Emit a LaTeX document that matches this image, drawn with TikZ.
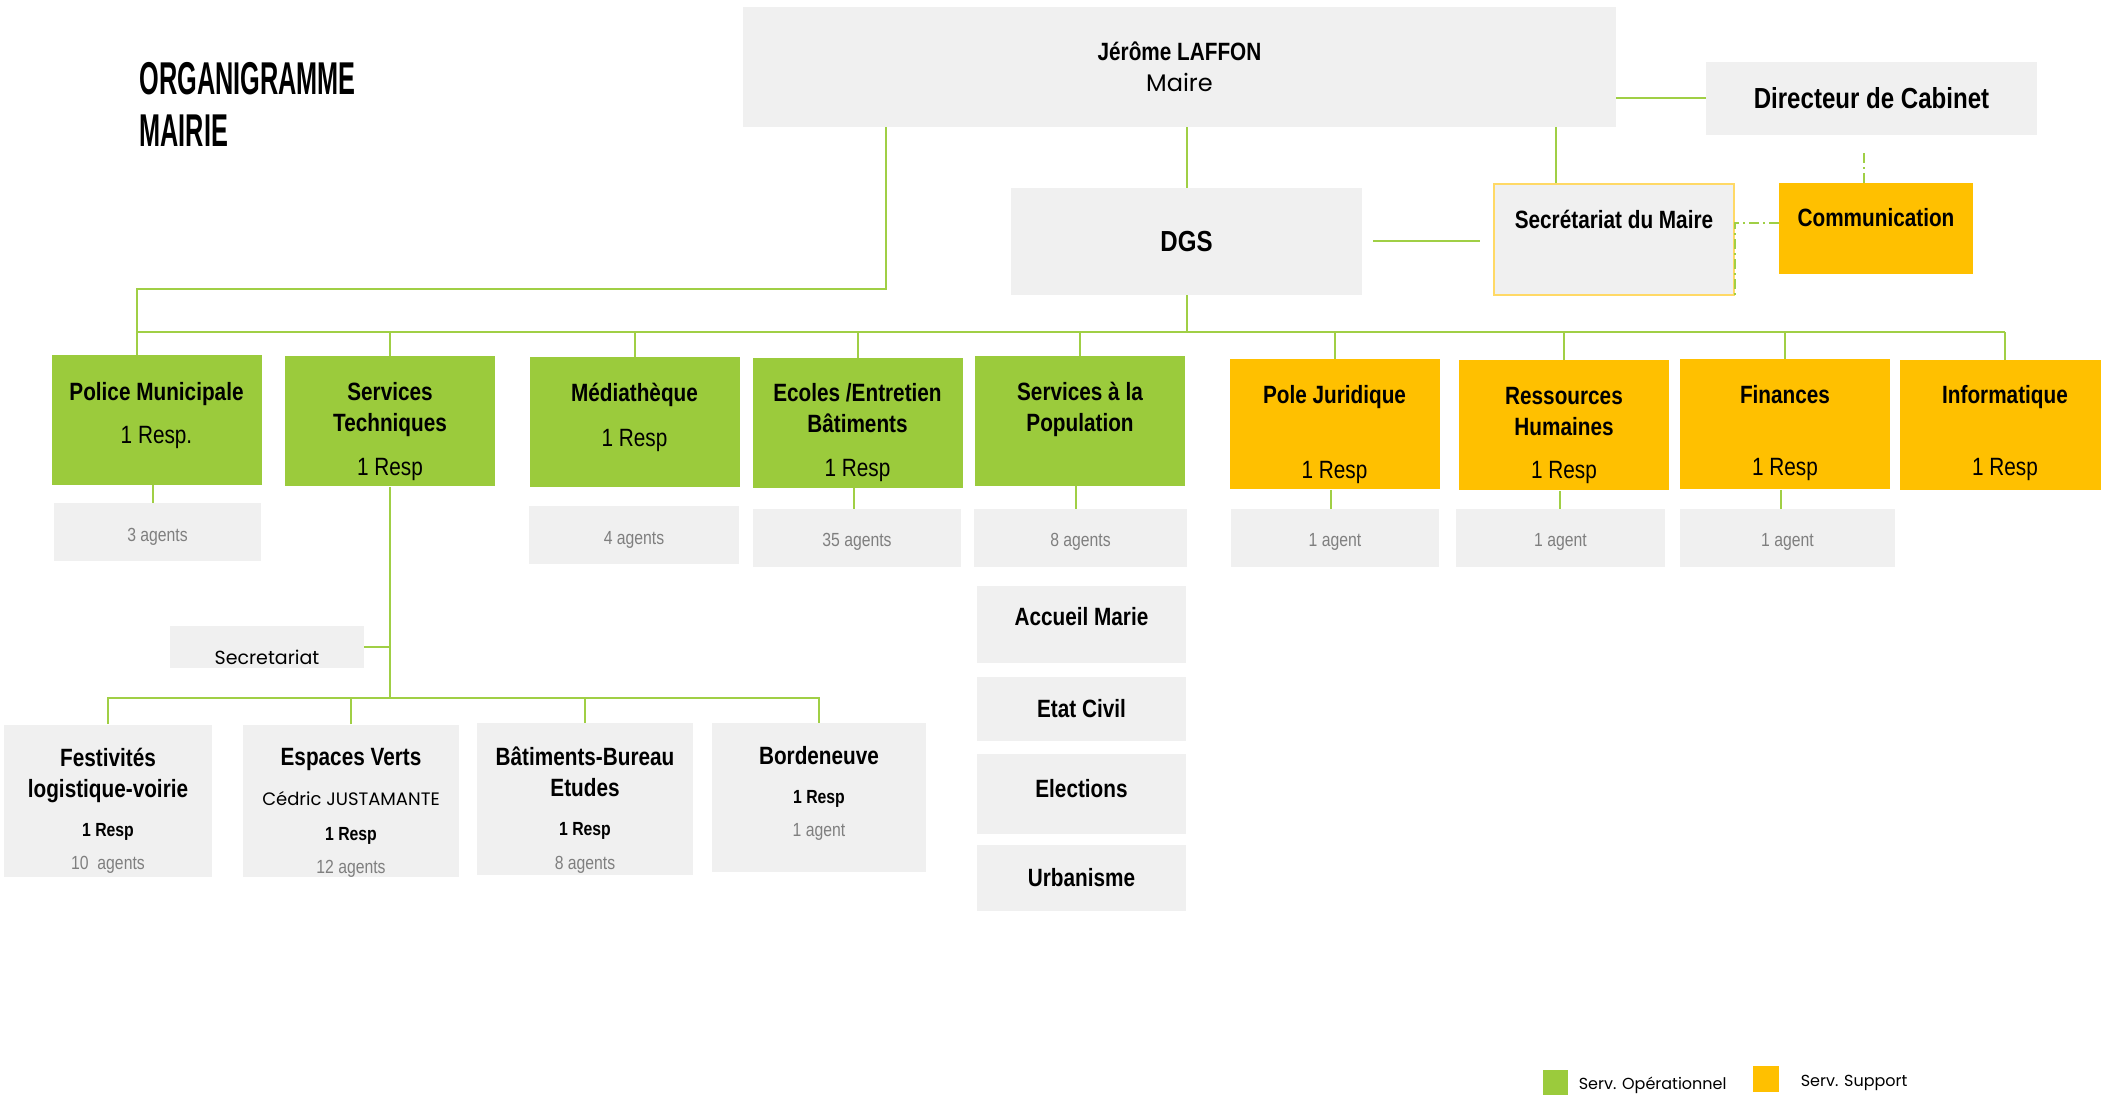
\documentclass[tikz,border=0pt]{standalone}
\usepackage{fontspec}
\setmainfont{Liberation Sans}
\newfontfamily\condfont[FakeStretch=0.83]{Liberation Sans}
\newfontfamily\titlefont[FakeStretch=0.55]{Liberation Sans}
\newfontfamily\roundfont{Poppins}
\usepackage{xcolor}
\usepackage{tikz}
\usetikzlibrary{positioning}

\definecolor{opgreen}{HTML}{9BCB3C}
\definecolor{suporange}{HTML}{FFC000}
\definecolor{boxgray}{HTML}{F0F0F0}
\definecolor{linegreen}{HTML}{A0CF45}
\definecolor{agentgray}{HTML}{7F7F7F}
\definecolor{secborder}{HTML}{FFD966}

\newcommand{\resp}{{\fontsize{9.5}{11}\selectfont 1 Resp}}
\newcommand{\agtxt}[1]{{\mdseries\fontsize{9.5}{11}\selectfont\color{agentgray}#1}}
\newcommand{\padtop}[1]{\rule{0pt}{#1}}
\newcommand{\padbot}[1]{\rule[-#1]{0pt}{#1}}

\begin{document}
\begin{tikzpicture}[x=0.5pt,y=-0.5pt,
  box/.style={inner sep=0pt,align=center,font=\condfont\bfseries\fontsize{12.5}{15.5}\selectfont},
  greybox/.style={box,fill=boxgray},
  opbox/.style={box,fill=opgreen,minimum width=105pt,minimum height=65pt},
  supbox/.style={box,fill=suporange,minimum width=105pt,minimum height=65pt},
  agentbox/.style={greybox,minimum height=29pt,text=agentgray,text height=11pt,text depth=2pt,
                   font=\condfont\fontsize{9.5}{11}\selectfont},
  popbox/.style={greybox,minimum width=104.5pt},
  subbox/.style={greybox,minimum height=76pt},
  link/.style={linegreen,line width=1pt},
  dlink/.style={link,dash pattern=on 5pt off 2pt on 1pt off 2pt}]
\useasboundingbox (0,0) rectangle (2101,1096);

% title
\node[anchor=north west,inner sep=0pt,align=left,
      font=\titlefont\bfseries\fontsize{23}{26}\selectfont] (title) at (139,62) {ORGANIGRAMME\\MAIRIE};

% top level
\node[greybox,minimum width=436.5pt,minimum height=60pt] (maire) at (1179.5,67)
  {Jérôme LAFFON\\{\roundfont\mdseries\fontsize{12}{14}\selectfont Maire}};
\node[greybox,minimum width=165.5pt,minimum height=36.5pt,
      font=\condfont\bfseries\fontsize{14.5}{17}\selectfont] (dircab) at (1871.5,98.5) {Directeur de Cabinet};
\node[greybox,minimum width=175.5pt,minimum height=53.5pt,
      font=\condfont\bfseries\fontsize{14.5}{17}\selectfont] (dgs) at (1186.5,241.5) {DGS};
\node[greybox,draw=secborder,line width=0.8pt,minimum width=120pt,minimum height=55.5pt,
      text height=9pt,text depth=19.5pt] (secmaire) at (1614,239.5) {Secrétariat du Maire};
\node[box,fill=suporange,minimum width=97pt,minimum height=45.5pt,
      text height=9pt,text depth=10.5pt] (comm) at (1876,228.5) {Communication};

% services
\node[opbox] (police) at (156.5,420) {Police Municipale\\[6pt]{\mdseries 1 Resp.}\padbot{7.3pt}};
\node[opbox] (servtech) at (390,421.5) {\padtop{18.6pt}Services\\Techniques\\[6.5pt]{\mdseries 1 Resp}};
\node[opbox] (media) at (634.5,422.5) {Médiathèque\\[7pt]{\mdseries 1 Resp}\padbot{7.3pt}};
\node[opbox] (ecoles) at (857.5,423) {\padtop{18.6pt}Ecoles /Entretien\\Bâtiments\\[6.5pt]{\mdseries 1 Resp}};
\node[opbox] (svcpop) at (1080,421) {Services à la\\Population\padbot{14.6pt}};
\node[supbox] (juri) at (1334.5,424.5) {\padtop{18.6pt}Pole Juridique\\[22pt]{\mdseries 1 Resp}};
\node[supbox] (rh) at (1564,425.5) {\padtop{18.6pt}Ressources\\Humaines\\[6pt]{\mdseries 1 Resp}};
\node[supbox] (fin) at (1785,424.5) {\padtop{17.2pt}Finances\\[20.5pt]{\mdseries 1 Resp}};
\node[supbox] (info) at (2005,425) {\padtop{17.2pt}Informatique\\[20.5pt]{\mdseries 1 Resp}};

% agents
\node[agentbox,minimum width=103.5pt] (agpol) at (157.5,532.5) {3 agents};
\node[agentbox,minimum width=105pt] (agmed) at (634,535.5) {4 agents};
\node[agentbox,minimum width=104pt] (agecol) at (857,538) {35 agents};
\node[agentbox,minimum width=106.5pt] (agpop) at (1080.5,538) {8 agents};
\node[agentbox,minimum width=104pt] (agjuri) at (1335,538) {1 agent};
\node[agentbox,minimum width=104.5pt] (agrh) at (1560.5,538) {1 agent};
\node[agentbox,minimum width=107.5pt] (agfin) at (1787.5,538) {1 agent};

% services a la population
\node[popbox,minimum height=38.5pt,text height=9pt,text depth=7.5pt] (accueil) at (1081.5,624.5) {Accueil Marie};
\node[popbox,minimum height=32pt] (etat) at (1081.5,709) {Etat Civil};
\node[popbox,minimum height=40pt,text height=9pt,text depth=6pt] (elect) at (1081.5,794) {Elections};
\node[popbox,minimum height=33pt] (urba) at (1081.5,878) {Urbanisme};

% services techniques
\node[greybox,minimum width=97pt,minimum height=21pt,text height=18pt,text depth=0pt,
      font=\roundfont\fontsize{9.5}{11}\selectfont] (secret) at (267,647) {Secretariat};
\node[subbox,minimum width=104pt] (festiv) at (108,800.5)
  {\padtop{19.5pt}Festivités\\logistique-voirie\\[4pt]\resp\\[1pt]\agtxt{10~ agents}};
\node[subbox,minimum width=108pt] (espaces) at (351,801)
  {\padtop{20.3pt}Espaces Verts\\[4.5pt]{\roundfont\mdseries\fontsize{9}{11}\selectfont Cédric JUSTAMANTE}\\[2pt]\resp\\[1pt]\agtxt{12 agents}};
\node[subbox,minimum width=108pt] (batim) at (585,799)
  {\padtop{20.3pt}Bâtiments-Bureau\\Etudes\\[3.7pt]\resp\\[1.5pt]\agtxt{8 agents}};
\node[subbox,minimum width=107pt,minimum height=74.5pt] (borden) at (819,797.5)
  {Bordeneuve\\[4pt]\resp\\[1pt]\agtxt{1 agent}\padbot{5.6pt}};

% legend
\node[fill=opgreen,minimum size=12.5pt,inner sep=0pt] (lgop) at (1555.5,1082.5) {};
\node[right=5pt of lgop,yshift=-1.5pt,inner sep=0pt,font=\roundfont\fontsize{8}{10}\selectfont] (lgoptxt) {Serv. Opérationnel};
\node[fill=suporange,minimum size=13pt,inner sep=0pt] (lgsup) at (1766,1079) {};
\node[right=10.5pt of lgsup,yshift=-2pt,inner sep=0pt,font=\roundfont\fontsize{8}{10}\selectfont] (lgsuptxt) {Serv. Support};

% links
\draw[link] (maire.south -| dgs.north) -- (dgs.north);
\draw[link] (maire.east |- dircab.west) -- (dircab.west);
\draw[link] ([xshift=-29pt]secmaire.north) -- ([xshift=-29pt]secmaire.north |- maire.south);
\draw[link] ([xshift=5.5pt]dgs.east) -- ([xshift=-6.5pt]secmaire.west |- dgs.east);
\draw[dlink] ([yshift=2.75pt]comm.west) -- ([yshift=2.75pt]comm.west -| secmaire.east) -- (secmaire.south east);
\draw[dlink] ([xshift=-6pt]comm.north) -- ([xshift=-6pt,yshift=-9pt]comm.north |- dircab.south);
\draw[link] ([xshift=71.5pt]maire.south west) -- ++(0,-81pt) -| ([xshift=-10pt]police.north);

\coordinate (bus) at ([yshift=-18.5pt]dgs.south);
\draw[link] (dgs.south) -- (bus);
\draw[link] ([xshift=-10pt]police.north |- bus) -- (info.north |- bus);
\foreach \u in {servtech,media,ecoles,svcpop,juri,rh,fin,info}
  \draw[link] (\u.north) -- (\u.north |- bus);
\foreach \u/\a in {police/agpol,ecoles/agecol,svcpop/agpop,juri/agjuri,rh/agrh,fin/agfin}
  \draw[link] ([xshift=-2pt]\u.south) -- ([xshift=-2pt]\u.south |- \a.north);

\coordinate (bus2) at ([yshift=-105.5pt]servtech.south);
\draw[link] (servtech.south) -- (bus2);
\draw[link] (secret.east) -- (secret.east -| servtech.south);
\draw[link] (festiv.north) |- (bus2) -| (borden.north);
\foreach \u in {espaces,batim}
  \draw[link] (\u.north) -- (\u.north |- bus2);
\end{tikzpicture}
\end{document}
